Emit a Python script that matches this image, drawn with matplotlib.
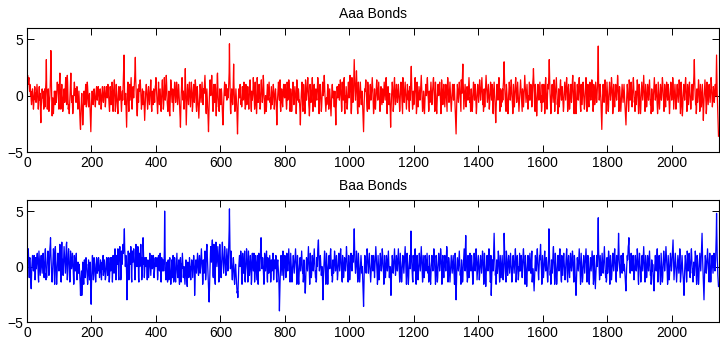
import string
import numpy as np
import matplotlib
matplotlib.use("Agg")
import matplotlib.pyplot as plt

# Daily changes, one letter per day: 'Z' = 0, each letter step = 0.2
# (A = -5.0 ... z = +5.2). Groups of ten days, fifty days per line.
LEVELS = string.ascii_uppercase + string.ascii_lowercase
STEP = 0.2

aaa_codes = (
    "hgifeghdbe cZbXVYacZW TVZbdcXaWZ cebYWTVZdZ XaRNUWZcaY "
    "bWTWYcUZdg pdXTYbcVSV XZdjtkcVQU YTRUXbZVWb YWZcfceaXT "
    "cgjdXTWbeZ WSUYbcZWae hdXVaifZTU VRUYbfjdXW ZVRTXadfcZ "
    "caWYbdZVTW ZbXTQMKPUY aWSMQVZbYV XaeZUVYfda XUWZaWSNJQ "
    "VZbaXVWZcb YWUXacdZXa bdaYVXacaW TVZbdbXWZa dbXUWadcZY "
    "becZXUSWda XVZbfdXSXb egcVSUXebY WTRXbdaXZc dZVSWZbXdh "
    "mrfXVZaVRL TZdfcVSXea XaehbVTWcd aYbehkqhdZ WSQUcZWaeb "
    "dgeaXTVZcY VZbXTOSXac ecZWTVbdaX VYbegcUSXb XVZcbYWade "
    "heaXVRUZfb YVZcZWSVae gcZTVaheaX ZdifaWUSTX bXRQVbgebZ "
    "WZcXSVZcfd aWYcfdZVXb ecZVTPLSYc fhdZXbWTVZ flcTMSYcea "
    "XVZdfbYUXb fcZSUZceaW YcgebUSVdb YVTPTYbecZ WZdfbXVZca "
    "dgieaTRXcZ WSNJPWaegc ZbfieaTSUX eZWaecUQVY ijdYUWSXcb "
    "YVZcaWSOMS WZdfcZaebY XZcaYbfjwk dTRVYcbXVZ hneZVSUYcZ "
    "WTNIPVZcbY becZVXUWda XZdfbYWTUe aXVZbdZWTX begcYUSbZX "
    "ZcheaXTVfb XVRUheaWYc ebXTUZegca WYcifaXRUV ZVSUZceaXZ "
    "cfcZWYTVda XVZbecYTVZ bcZWRMSXac fdZXbgUSWZ caWUXaecZY "
    "becZWTVfbX YbgeaYSUcZ WSUZcfdZVX adbZXRVgcZ XZcaWXURMT "
    "XadfcUSbec YVRTgdaXZb fheaVTQUec ZWYbfhdSUZ ceaWUZcbYX "
    "aehfbTRVce cZVSUYcfcZ bfifaXTSVY VXbecZTWac ZXTQUZcebY "
    "baXUXbWRMT XadbYZdeaX ZcgeaWSUfc ZXbfhTRZWZ daWTVZcfbY "
    "aeifbTRUhd ZWYcipjcZX afkgbTRVfa WUYcfcZVXb ZVSNJQWacb "
    "egcZWTSfda XTVZcebXZc fheaWRTVcY UTXaegcZXa dfbYWSUXda "
    "YVZcaWYcfc ZXbfheTRVc daXVZaWRLS WZcfdaSUXf hdZVXbecZW "
    "YbecZVSUZc fdaXTRhfbY WZdfcZWTXb ecZXbUSdaX eimfaXTVbY "
    "VXbfheaXRT fcYUWadbZX ZcgieaWSUV bXTRVZbecZ bfhdZXSTbY "
    "WZcfcZVXbd ghdZWSUfbX TRVZbecZad fcYWRTgeaX VZcebYUXbe "
    "cZWSdhfbYW ZcfcZVSVZc ecZXbecYUP MIQWaecZWZ cfdaXTSgea "
    "einfbTWZce bXUWadcZXa eheaWYSUcZ VSUZcfdZXb ecYVRUZceb "
    "YWZcgeaXZc fhdZVXSUcY UXbfifbYWZ ceaWTVZcfc ZXbecTRYbf "
    "cZVRNSYbec ZXbfheaSTc UbYWZcXdfj ohcZWTSecZ WTRUZcfdaX "
    "ZcgeaXVRUe bYUXbfheaW YcfcZVSVZb egdaXTScbX UWaeifbYWZ "
    "ceaWTVZXfc ZXbecYUXbf hlgbXTSebY VQTYbecZXa dfbYWZSUea "
    "WYbecZRUfh dZWTXbecfj picZVRUZce bYWZcgeSXZ cfhdZVXRTc "
    "YUWaegcZXa dbYVSUZcfc ZXbfhdaSTc ebXTVZceaW YcgieaXRVf "
    "cYURTYbecZ XbfheaWTSe bXVZdfcZWT VZcfhdUSZc eaWUXbfdZX "
    "ZcgeaXSUec YVXbfcZWYb flvgaXZceb YTOKRXbecZ WYcgeaXRVf "
    "cZVSUZcfda XZchfbYRTc eaWUXbecZX aeigbYSUdb YUSVZcebYW "
    "ZceaXUROMS XbecZWSUge aXZcfcYUXb fhdZWYSUbX VZcgeaWRTe "
    "cZVRTYbfcZ XbfieaXSUe bXUWaecZXa dgcYVXRTcZ WSTYbfhdaX "
    "ZcebYVRUfc ZWTXbecZXa ehfbYWSUea WUYcfdZXbe cYURUZcfda "
    "XZchfbTWZc eaWTVZcebY WZdgeaXRUf cYUQTYbecZ XbfheaWSTe "
    "bXVZdfcZWT VZceaXZcfj phcZVXRTcZ WYcgeaXSUe bYUXbeZVOT "
    "XaegcZWRTf daXVZcebYW ZchfbXUWad cZWYbecZhr iaVQLH"
)

baa_codes = (
    "hgefhdYUcd ZVSPUZcebZ XaecZTVdaY befcZUSgda YVZcebXWad "
    "fcYUXbfhdT WUYbegeZVX chjmfbXTSW ZdhfbTRgie ZURUZcfeaX "
    "bfjhXTSgkd cYVZeifbYW afjkXTVbfh eaWSUgebYZ cfdZVRTecZ "
    "XZcfWTVZbY WYaXURMQUX MRWbXTRUca XUZdZaXURT XcZWTVbUOI "
    "RWaeZWTVdb aXUSVbdcWZ XbdaXUWZca WTXbYaeVXb cZWTUYbdaX "
    "VYdaWSUZdZ XadbYSaecZ WZdheaTVec aeheVTcgie bTVgdachjf "
    "hmqidZbebV KSZdgeTVfd aeifUScgeb ehfaXTVhjf bZcgieUSfc "
    "ZbgjfbTVda mhcZUXdaZb dbYTacbUXZ bfcZVYbeaY ZcecUWYbdb "
    "ZacdaTVceb YXafZWSbda XZcZXagykZ VTWZbUSVcW TVbdXURTYc "
    "UWZeVSTXdY USVYbfaWUW ZcTRUbdVSa YcfcYUXZWT RUXcbVSQYb "
    "aXUWdbYVTZ ZcZWUXbecZ MSXacZWZdf bYVZceaWYb fhdZXRTcYW "
    "ZdgeTVchjf bXTQNJPWbf iebfjlgVUh jfbTRhkgcZ cgieaSTfjg "
    "cYUXbgkhdZ WZdigbXVZd heaXZejpzm dYbgdZVTWa dbXTRVYaXU "
    "RPNOLQVZce bZcgeaTRcf daWYcgTSXZ dhfbYSUgcZ VXbebYRTcf "
    "cZXbfdSUbe bXUTbecRbf dZXaejmfbY adbYVRTfcZ XbegcUSdbY "
    "WZcebYSUcZ XadfbTWZcb YaecUSYbcZ WUOFMSXbeb YVZcgeTWYb "
    "ecYUXbfdZX aeheaWSUfc ZVSUZcebYW ZcfhdaXRTe bXTRVZbdaX "
    "aegcZWYSUc YTPNQWadbZ XbfieaXRVf cYUWaecZXa eheaWUXSTd "
    "ZchjlfaXZc ebYVXZWRKQ WZdgeaXRUf cYVRUZcebY afhdZVXSTc "
    "ZWYcgeaXZb ebXTVZcfcZ XbfheaWTSe bXUWadcZXa eifbYWSUea "
    "WTVZcfdaXZ cebfkqicZW YbgeaXSUfc ZVSVZcebYW ZVRMHPWaec "
    "bYWZdhfbYW ZcfcZVSVZc ecZXbecYUX bfifbYWRTe aWTVZcfdaX "
    "ZchfbYWRTe aWUXbecZXa dgcYUXZWSM SXbecZWYbf hdZVXbecZX "
    "aeheaWSUfc ZVSUZcebYW ZcgieaXRVf cYURUZcebY hphcZWTSec "
    "ZXbfheTRYc ebXTVZcfcZ XbfieaXSUe bYUWaecZXa dfbYWZSUea "
    "WTRVZbecZX aehfbYWRTe cZVSUZcfda XZchfbYRTc eaWUXbecZX "
    "aeigbTSUdb YUSVZcebYW ZceaXVRUfc PKRWadbZXa egcYVXRTcZ "
    "WSTYbfhdaX ingbYWSUea WUYcfdZXbe cYURUZcfda XZchfbTWZc "
    "eaWTVZcebY WZdgeaXRUf cYUQTYbecZ XbfheaWSTe MRWZcaXdjo "
    "hcZVXRTcZW YcgeaXSUeb YUXbeZVTWb ojeZWTSgea XVZcebYWZc "
    "fcZVSUZceb YWZcfhdSUZ ceaWTVZXfc ZXbecYUXbf hebXTRebYV "
    "QTYbecZXad fbYWZcgSUW YVROSXbecZ XbfhdZWTXb ecfjeaXRUe "
    "bYUWaegcZX adbYVSUZfq icZVXRTcZW YcgieaXRVf cYURTYbecZ "
    "XbfheaWTSe bXVZdfcZWT VZcfhdUSZc eaWUXbfdZX ZcgeaXSUec "
    "XTPMRWadbZ XaeheaWRTf cZVSUZcebY WZcfhdaSTc ebXTRVZbda "
    "XaegcZWRTe cYTPTYbecZ emvhbXTVeb YVXbfcZWYb fieaWUXSTd "
    "ZWYcgeaXRb ebXTVZcfcZ XbfheaWTSe bXZchoicZW UXbecZWYbf "
    "dZXaYVSQOT Ybeceijmgb YWZcfdaXZc eaWTVZcebY XZdhfbTRZc "
    "fcZVSUZceb XbfieaXSUe bXUWaecZXa dgcYVXRTcZ XaWTQOTYbe "
    "cZXbfhdSUZ cebYVRTfcZ WSUZcgeaXZ bfifbYWRTe aWTVZcfdaX "
    "ZcgjlfbTWZ cfcZVSVZce bYWZdhfSUW ZceaXVTQMS XbecZWSUge "
    "aXZcfcYUXb fhdZWYSUbX VZcgeaWRTe cZVRTYbfcZ XbfjohbXTQ "
    "KRXbecZWYb fheaXTScfZ VSUZcebYWZ cfdaXZchnx neZVSQ"
)


def decode(codes):
    return np.array([(LEVELS.index(c) - 25) * STEP
                     for c in codes.replace(" ", "")])


aaa = decode(aaa_codes)
baa = decode(baa_codes)

titles = ["Aaa Bonds", "Baa Bonds"]
series = [aaa, baa]
colors = ["#ff0000", "#0000ff"]
x_ticks = list(range(0, 2001, 200))
y_ticks = [-5, 0, 5]

plt.rcParams["font.family"] = ["Liberation Sans", "DejaVu Sans"]
plt.rcParams["font.size"] = 10

fig = plt.figure(figsize=(7.2, 3.4), dpi=100)
rects = [[27 / 720, 188 / 340, 691.5 / 720, 124 / 340],
         [27 / 720, 18 / 340, 691.5 / 720, 122 / 340]]

for rect, title, y, color in zip(rects, titles, series, colors):
    ax = fig.add_axes(rect)
    ax.plot(np.arange(len(y)), y, color=color, lw=0.9)
    ax.set_xlim(0, 2145)
    ax.set_ylim(-5, 6)
    ax.set_xticks(x_ticks)
    ax.set_yticks(y_ticks)
    ax.tick_params(direction="in", top=True, right=True, length=5,
                   width=0.7, labelsize=10, pad=3)
    for sp in ax.spines.values():
        sp.set_linewidth(0.8)
    ax.set_title(title, fontsize=10, pad=7)

fig.savefig("out.png", dpi=100)
